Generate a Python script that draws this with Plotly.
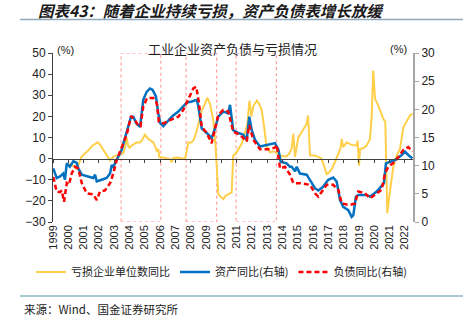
import plotly.graph_objects as go

# ---------------- data ----------------
loss_x = [2000.0, 2000.25, 2000.55, 2000.76, 2000.87, 2001.1, 2001.31, 2001.55, 2001.75, 2001.92,
          2002.05, 2002.18, 2002.4, 2002.6, 2002.73, 2002.95, 2003.16, 2003.4, 2003.6, 2003.72,
          2003.8, 2003.9, 2004.0, 2004.14, 2004.3, 2004.47, 2004.65, 2004.8, 2005.01, 2005.1,
          2005.23, 2005.4, 2005.56, 2005.7, 2005.78, 2005.88, 2005.95, 2006.1, 2006.4, 2006.65,
          2006.76, 2006.87, 2007.1, 2007.35, 2007.63, 2007.75, 2007.85, 2008.0, 2008.17, 2008.35,
          2008.5, 2008.72, 2008.93, 2009.08, 2009.26, 2009.48, 2009.63, 2009.7, 2009.8, 2009.95,
          2010.13, 2010.3, 2010.46, 2010.68, 2010.78, 2011.0, 2011.33, 2011.55, 2011.7, 2011.84,
          2011.97, 2012.1, 2012.33, 2012.47, 2012.64, 2012.8, 2012.95, 2013.18, 2013.4, 2013.62,
          2013.84, 2014.05, 2014.27, 2014.45, 2014.6, 2014.71, 2014.82, 2015.03, 2015.2, 2015.36,
          2015.58, 2015.67, 2015.8, 2016.0, 2016.24, 2016.56, 2016.78, 2016.89, 2017.05, 2017.22,
          2017.43, 2017.65, 2017.8, 2017.87, 2017.97, 2018.2, 2018.5, 2018.85, 2018.91, 2019.0,
          2019.07, 2019.3, 2019.5, 2019.72, 2019.83, 2019.93, 2020.05, 2020.26, 2020.45, 2020.59,
          2020.72, 2020.85, 2021.03, 2021.24, 2021.46, 2021.68, 2021.9, 2022.1, 2022.33, 2022.5]
loss_yoy = [-2.4, -3.0, -4.9, -1.0, 1.0, 2.5, 3.9, 6.0, 7.0, 7.7,
            6.8, 5.4, 3.0, 0.5, -0.8, 1.0, 1.4, 2.0, 2.5, 6.0,
            10.0, 6.5, 5.1, 6.2, 7.0, 7.7, 7.5, 8.5, 11.4, 10.5,
            9.3, 8.5, 7.7, 5.5, 3.8, 4.5, 0.6, 0.6, 0.3, -0.2,
            -1.7, 0.3, 0.5, 0.0, -0.2, 4.0, 7.7, 7.5, 8.5, 12.0,
            16.4, 22.7, 25.9, 28.8, 25.9, 18.0, 5.4, -2.5, -16.7, -18.0,
            -19.1, -17.5, -16.7, -16.0, 1.4, 3.0, 7.0, 13.0, 16.0, 27.5,
            20.0, 25.0, 27.5, 26.0, 23.0, 15.0, 6.0, 3.0, 3.5, 2.6,
            1.5, 1.2, 1.0, 2.5, 5.0, 11.7, 0.8, 9.9, 12.0, 13.3,
            16.4, 20.4, 1.6, 1.5, 1.2, 0.0, -5.7, -7.3, -6.5, -4.9,
            -1.6, 2.4, 5.0, 9.3, 5.4, 7.7, 6.5, 6.2, 8.5, -3.3,
            4.6, 5.0, 6.2, 9.3, 20.0, 41.7, 28.3, 25.1, 21.0, 18.8,
            17.4, -25.8, -15.2, -4.1, 1.4, 4.6, 14.8, 17.2, 20.4, 21.2]

asset_x = [1999.02, 1999.24, 1999.46, 1999.67, 1999.78, 1999.9, 2000.1, 2000.26, 2000.33, 2000.55,
           2000.65, 2000.88, 2001.31, 2001.63, 2001.75, 2001.86, 2002.18, 2002.51, 2002.73, 2002.84,
           2002.94, 2003.16, 2003.49, 2003.7, 2003.88, 2004.1, 2004.25, 2004.45, 2004.69, 2004.9,
           2005.12, 2005.34, 2005.5, 2005.73, 2005.88, 2006.02, 2006.21, 2006.5, 2006.76, 2007.19,
           2007.48, 2007.74, 2008.07, 2008.4, 2008.5, 2008.72, 2009.05, 2009.37, 2009.59, 2009.8,
           2010.13, 2010.46, 2010.57, 2010.78, 2011.11, 2011.44, 2011.66, 2011.83, 2011.99, 2012.2,
           2012.53, 2012.97, 2013.51, 2013.73, 2013.88, 2014.27, 2014.49, 2014.6, 2014.82, 2014.93,
           2015.14, 2015.58, 2015.8, 2016.12, 2016.34, 2016.67, 2016.99, 2017.32, 2017.54, 2017.76,
           2017.97, 2018.3, 2018.52, 2018.63, 2018.8, 2018.95, 2019.5, 2019.72, 2020.16, 2020.48,
           2020.63, 2020.76, 2021.14, 2021.35, 2021.79, 2022.0, 2022.22, 2022.48]
asset_yoy = [9.5, 7.8, 8.1, 8.6, 7.5, 10.4, 9.8, 10.4, 10.8, 10.5,
             9.5, 8.4, 8.1, 7.8, 8.4, 7.2, 7.5, 7.8, 8.6, 10.1,
             9.8, 11.0, 12.8, 14.9, 16.6, 18.7, 18.7, 17.5, 16.9, 21.7,
             23.1, 23.7, 23.5, 22.3, 19.3, 17.5, 17.0, 18.0, 18.7, 19.6,
             20.5, 21.2, 21.4, 21.7, 20.5, 16.6, 15.8, 14.9, 16.6, 18.7,
             19.6, 19.3, 20.8, 16.3, 15.8, 15.5, 14.6, 18.7, 16.3, 14.6,
             13.4, 13.7, 14.0, 12.9, 10.7, 10.4, 9.8, 9.8, 9.0, 9.8,
             8.6, 8.4, 7.5, 6.0, 5.6, 6.3, 7.5, 7.9, 7.2, 3.9,
             2.7, 2.1, 0.9, 1.2, 4.5, 4.8, 4.8, 4.5, 5.4, 6.3,
             6.9, 10.4, 10.7, 11.0, 11.9, 12.5, 11.9, 11.3]

debt_x = [1999.02, 1999.24, 1999.46, 1999.57, 1999.72, 1999.9, 2000.04, 2000.22, 2000.44, 2000.65,
          2000.88, 2001.2, 2001.63, 2001.86, 2002.07, 2002.4, 2002.73, 2002.94, 2003.16, 2003.49,
          2003.82, 2004.1, 2004.36, 2004.6, 2004.72, 2004.9, 2005.15, 2005.56, 2005.78, 2005.92,
          2006.21, 2006.65, 2006.97, 2007.19, 2007.52, 2007.85, 2008.17, 2008.36, 2008.52, 2008.72,
          2009.05, 2009.37, 2009.59, 2009.8, 2010.13, 2010.46, 2010.78, 2011.22, 2011.66, 2011.83,
          2012.09, 2012.53, 2013.07, 2013.51, 2013.62, 2013.84, 2014.16, 2014.49, 2014.71, 2014.93,
          2015.14, 2015.8, 2016.12, 2016.34, 2016.56, 2016.89, 2017.32, 2017.65, 2017.87, 2018.2,
          2018.52, 2018.74, 2018.95, 2019.39, 2019.72, 2020.16, 2020.48, 2020.7, 2020.91, 2021.35,
          2021.9, 2022.22, 2022.5]
debt_yoy = [8.0, 5.4, 5.3, 5.6, 3.6, 6.9, 6.6, 8.6, 9.8, 9.5,
            6.9, 5.1, 4.9, 3.9, 5.4, 5.6, 6.9, 8.6, 11.0, 13.1,
            15.5, 18.8, 18.1, 17.0, 17.0, 20.5, 22.0, 22.0, 21.1, 17.8,
            17.5, 18.1, 18.4, 18.7, 19.9, 22.0, 23.7, 24.0, 21.5, 16.9,
            15.8, 14.0, 16.3, 19.0, 19.9, 19.6, 16.0, 15.5, 14.3, 17.2,
            14.6, 12.9, 12.9, 13.2, 13.7, 9.5, 9.8, 8.4, 6.9, 6.9,
            6.9, 6.6, 5.1, 4.5, 5.4, 6.6, 6.6, 5.7, 3.3, 3.1,
            3.1, 3.3, 5.4, 5.1, 4.2, 5.1, 5.7, 8.6, 9.8, 10.7,
            12.8, 13.3, 12.5]

year_ticks = list(range(1999, 2023))
year_labels = [str(y) for y in year_ticks]
boxes = [(2003.45, 2006.05), (2007.7, 2009.7), (2010.97, 2013.6)]

# ---------------- layout helpers (pixel -> paper) ----------------
W, H = 463, 321
L, R, T, B = 53, 50, 53, 99
PW, PH = W - L - R, H - T - B
def px(x): return (x - L) / PW
def py(y): return (H - B - y) / PH

FONT = "Arial, Liberation Sans, sans-serif"
CJK = "Noto Sans CJK SC, sans-serif"

fig = go.Figure()
fig.add_trace(go.Scatter(x=loss_x, y=loss_yoy, name="亏损企业单位数同比", mode="lines",
                         line=dict(color="#FFCF4A", width=2), yaxis="y"))
fig.add_trace(go.Scatter(x=asset_x, y=asset_yoy, name="资产同比(右轴)", mode="lines",
                         line=dict(color="#0070C0", width=2.5), yaxis="y2"))
fig.add_trace(go.Scatter(x=debt_x, y=debt_yoy, name="负债同比(右轴)", mode="lines",
                         line=dict(color="#FF0000", width=2.5, dash="5px,3px"), yaxis="y2"))
# carrier trace for the zero-crossing axis
fig.add_trace(go.Scatter(x=[year_ticks[0]], y=[0], xaxis="x2", yaxis="y", mode="markers",
                         marker=dict(opacity=0), showlegend=False, hoverinfo="skip"))

for x0, x1 in boxes:
    fig.add_shape(type="rect", xref="x", yref="y", x0=x0, x1=x1, y0=-30, y1=50,
                  line=dict(color="#FF8C8C", width=1, dash="dot"), layer="below")

shapes_extra = [
    dict(type="line", xref="paper", yref="paper", x0=px(20), x1=px(463), y0=py(19.5), y1=py(19.5),
         line=dict(color="#8EA9BC", width=1.5)),
    dict(type="line", xref="paper", yref="paper", x0=px(20), x1=px(463), y0=py(296), y1=py(296),
         line=dict(color="#8EB4C8", width=1.5)),
]
for s in shapes_extra:
    fig.add_shape(**s)

ann = [
    dict(text="<b><i>图表43：随着企业持续亏损，资产负债表增长放缓</i></b>", x=px(211), y=py(10.5),
         xanchor="center", yanchor="middle", font=dict(family=CJK, size=15.5, color="#1a1a1a")),
    dict(text="工业企业资产负债与亏损情况", x=px(232), y=py(48), xanchor="center", yanchor="middle",
         font=dict(family=CJK, size=13, color="#222222")),
    dict(text="(%)", x=px(55), y=py(50), xanchor="left", yanchor="middle",
         font=dict(family=FONT, size=11, color="#222222")),
    dict(text="(%)", x=px(409), y=py(49), xanchor="right", yanchor="middle",
         font=dict(family=FONT, size=11, color="#222222")),
    dict(text="来源：Wind、国金证券研究所", x=px(22), y=py(309), xanchor="left", yanchor="middle",
         font=dict(family=CJK, size=11.5, color="#222222")),
]
for a in ann:
    fig.add_annotation(xref="paper", yref="paper", showarrow=False, **a)

fig.update_layout(
    width=W, height=H, margin=dict(l=L, r=R, t=T, b=B),
    paper_bgcolor="white", plot_bgcolor="white",
    font=dict(family=FONT, size=11, color="#222222"),
    showlegend=True,
    legend=dict(orientation="h", x=px(31), y=py(272), xanchor="left", yanchor="middle",
                font=dict(family=CJK, size=11, color="#222222"), itemwidth=30,
                bgcolor="rgba(0,0,0,0)"),
    xaxis=dict(range=[1999, 2022.53], tickvals=year_ticks, ticktext=year_labels, tickangle=-90,
               showgrid=False, zeroline=False, showline=False, ticks="",
               tickfont=dict(family=FONT, size=11, color="#222222")),
    xaxis2=dict(overlaying="x", matches="x", anchor="free", position=0.375, side="bottom",
                showline=True, linecolor="#404040", linewidth=1, ticks="outside", ticklen=3,
                tickcolor="#404040", tickvals=year_ticks, showticklabels=False, showgrid=False,
                zeroline=False),
    yaxis=dict(range=[-30, 50], dtick=10, showgrid=False, zeroline=False, showline=True,
               linecolor="#404040", linewidth=1, ticks="outside", ticklen=4, tickcolor="#404040",
               tickfont=dict(family=FONT, size=12, color="#222222")),
    yaxis2=dict(range=[0, 30], dtick=5, overlaying="y", side="right", showgrid=False,
                zeroline=False, showline=True, linecolor="#A6A6A6", linewidth=2, ticks="outside",
                ticklen=4, tickcolor="#A6A6A6",
                tickfont=dict(family=FONT, size=12, color="#222222")),
)

fig.write_html("out.html")
